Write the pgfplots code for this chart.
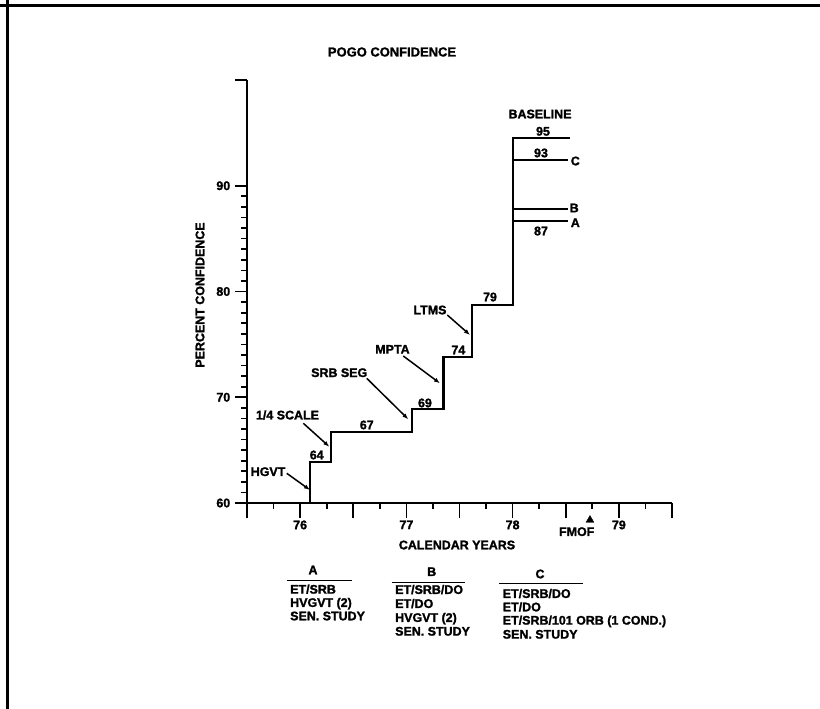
\documentclass[border=0pt]{standalone}
\usepackage{fontspec}
\setmainfont{Liberation Sans}[BoldFeatures={FakeBold=1.6}]
\usepackage{pgfplots}
\pgfplotsset{compat=1.18}
\usetikzlibrary{arrows.meta}

\begin{document}
\begin{tikzpicture}[font=\fontsize{12.5}{13.5}\selectfont\bfseries]
\useasboundingbox (0,0) rectangle (820bp,-709bp);
% scan frame
\draw[line width=3bp] (0,-5.5bp) -- (820bp,-5.5bp);
\draw[line width=3bp] (7bp,0) -- (7bp,-709bp);

\begin{axis}[
	at={(247bp,-503bp)}, anchor=south west,
	scale only axis, width=425bp, height=423bp,
	xmin=76, xmax=80, ymin=60, ymax=100,
	axis lines=left,
	axis line style={line width=2bp, -},
	clip=false,
	tick align=outside, tick pos=left,
	tick style={line width=1.7bp, black},
	minor tick length=6bp,
	xtick={76,...,80}, xticklabels={},
	xtick style={/pgfplots/major tick length=15bp},
	minor x tick num=3,
	extra x ticks={76.5,77.5,78.5,79.5},
	extra x tick labels={76,77,78,79},
	extra x tick style={/pgfplots/major tick length=6bp},
	ytick={60,70,80,90},
	ytick style={/pgfplots/major tick length=12bp},
	minor y tick num=9,
	extra y ticks={100}, extra y tick labels={},
	extra y tick style={/pgfplots/major tick length=6bp},
	/pgf/number format/assume math mode=true,
	ticklabel style={font=\fontsize{12.5}{13.5}\selectfont\bfseries},
	xticklabel style={yshift=-8bp},
	yticklabel style={xshift=-9bp},
]
% main step curve
\addplot[line width=2.3bp, black] coordinates {
	(76.593,60) (76.593,63.88) (76.788,63.88) (76.788,66.74)
	(77.550,66.74) (77.550,68.89) (77.848,68.89) (77.848,73.83)
	(78.115,73.83) (78.115,78.72) (78.506,78.72) (78.506,94.54)
	(79.040,94.54)
};
% alternative levels C, B, A
\addplot[line width=2bp, black] coordinates {(78.506,92.43) (79.021,92.43)};
\addplot[line width=2bp, black] coordinates {(78.506,87.77) (79.021,87.77)};
\addplot[line width=2bp, black] coordinates {(78.506,86.69) (79.021,86.69)};
% FMOF marker
\addplot[only marks, mark=triangle*, mark size=4.5bp, black] coordinates {(79.228,58.39)};

% step values
\node at (axis cs:76.656,64.54) {64};
\node at (axis cs:77.127,67.38) {67};
\node at (axis cs:77.675,69.46) {69};
\node at (axis cs:77.989,74.47) {74};
\node at (axis cs:78.287,79.48) {79};
\node at (axis cs:78.786,95.15) {95};
\node at (axis cs:78.767,93.1) {93};
\node at (axis cs:78.767,85.72) {87};
\node at (axis cs:78.758,96.78) {BASELINE};
\node at (axis cs:79.09,92.34) {C};
\node at (axis cs:79.08,87.9) {B};
\node at (axis cs:79.09,86.5) {A};
\node at (axis cs:79.103,57.29) {FMOF};

% milestone labels with arrows
\tikzset{lead/.style={line width=1.5bp, -{Latex[length=6bp,width=4.5bp]}}}
\node at (axis cs:76.198,62.96) {HGVT};
\draw[lead] (axis cs:76.374,62.81) -- (axis cs:76.593,61.23);
\node at (axis cs:76.381,68.32) {1/4 SCALE};
\draw[lead] (axis cs:76.530,67.54) -- (axis cs:76.775,65.32);
\node at (axis cs:76.868,72.32) {SRB SEG};
\draw[lead] (axis cs:77.127,71.79) -- (axis cs:77.518,67.92);
\node at (axis cs:77.369,74.53) {MPTA};
\draw[lead] (axis cs:77.471,73.90) -- (axis cs:77.816,71.32);
\node at (axis cs:77.722,78.25) {LTMS};
\draw[lead] (axis cs:77.885,77.78) -- (axis cs:78.099,75.89);
\end{axis}

% titles
\node at (392bp,-52bp) {\fontsize{13}{14}\selectfont POGO CONFIDENCE};
\node[rotate=90] at (200bp,-295bp) {PERCENT CONFIDENCE};
\node at (457bp,-545bp) {CALENDAR YEARS};

% configuration table below the chart
\node at (313bp,-570bp) {A};
\draw[line width=1.4bp] (286.7bp,-580.7bp) -- (351.7bp,-580.7bp);
\node[anchor=base west] at (286.7bp,-593.6bp) {ET/SRB};
\node[anchor=base west] at (286.7bp,-606.9bp) {HVGVT (2)};
\node[anchor=base west] at (286.7bp,-620.3bp) {SEN. STUDY};

\node at (431.7bp,-571.7bp) {B};
\draw[line width=1.4bp] (391.7bp,-582.7bp) -- (465bp,-582.7bp);
\node[anchor=base west] at (391.7bp,-593.9bp) {ET/SRB/DO};
\node[anchor=base west] at (391.7bp,-607.9bp) {ET/DO};
\node[anchor=base west] at (391.7bp,-621.9bp) {HVGVT (2)};
\node[anchor=base west] at (391.7bp,-635.6bp) {SEN. STUDY};

\node at (540bp,-574bp) {C};
\draw[line width=1.4bp] (499.3bp,-583.3bp) -- (583bp,-583.3bp);
\node[anchor=base west] at (499.3bp,-597.9bp) {ET/SRB/DO};
\node[anchor=base west] at (499.3bp,-611.3bp) {ET/DO};
\node[anchor=base west] at (499.3bp,-624.6bp) {ET/SRB/101 ORB (1 COND.)};
\node[anchor=base west] at (499.3bp,-638.6bp) {SEN. STUDY};
\end{tikzpicture}
\end{document}
